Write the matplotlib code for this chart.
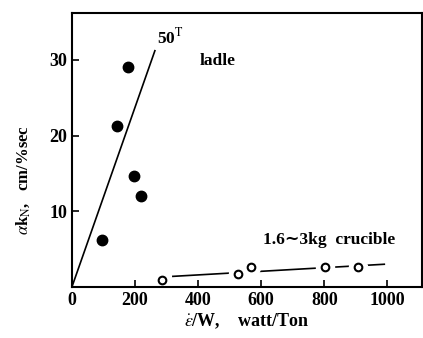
import matplotlib
matplotlib.use("Agg")
import matplotlib.pyplot as plt

# ladle data (filled circles)
ladle_x = [96, 144, 179, 196, 218]
ladle_y = [6.2, 21.2, 29.0, 14.6, 12.0]

# 50 T line
line50_x = [0, 263]
line50_y = [0, 31.2]

# crucible data (open circles)
cruc_x = [285, 525, 567, 803, 906]
cruc_y = [0.93, 1.7, 2.6, 2.6, 2.6]

# crucible trend line
cfit_x = [320, 990]
cfit_y = [1.4, 3.0]

xticks = [0, 200, 400, 600, 800, 1000]
yticks = [10, 20, 30]

plt.rcParams['font.family'] = ['Liberation Serif', 'DejaVu Serif']
plt.rcParams['mathtext.fontset'] = 'stix'

fig = plt.figure(figsize=(4.23, 3.38), dpi=100)
ax = fig.add_axes([0.170, 0.151, 0.828, 0.811])

ax.plot(line50_x, line50_y, color='black', lw=1.2)
ax.plot(cfit_x, cfit_y, color='black', lw=1.2, zorder=2)
# white halo so the trend line breaks around the circles (kept under the spines)
ax.plot(cruc_x, cruc_y, 'o', ms=13, color='white', mec='white', zorder=2.2)
ax.plot(cruc_x, cruc_y, 'o', ms=5.5, mfc='white', mec='black', mew=1.5, zorder=4)
ax.plot(ladle_x, ladle_y, 'o', ms=7.5, color='black', zorder=4)

ax.text(270, 33.0, r'50$^{\rm T}$', fontsize=12.5, fontweight='bold', va='center')
ax.text(406, 29.8, 'ladle', fontsize=12.5, fontweight='bold', va='center')
ax.text(606, 6.2, '1.6\u223c3kg  crucible', fontsize=12.5, fontweight='bold',
        va='center', family=['Liberation Serif', 'DejaVu Sans'])

ax.set_xlim(0, 1110)
ax.set_ylim(0, 36.2)
ax.set_xticks(xticks)
ax.set_yticks(yticks)
ax.tick_params(direction='in', length=5, width=1.2, labelsize=13)
for lab in ax.get_xticklabels() + ax.get_yticklabels():
    lab.set_fontweight('bold')
for s in ax.spines.values():
    s.set_linewidth(1.5)

ax.set_xlabel(r'$\dot{\varepsilon}$/W,    watt/Ton', fontsize=13, fontweight='bold', labelpad=2)
ax.set_ylabel(r'$\alpha$k$_{\rm N}$,   cm/%sec', fontsize=12, fontweight='bold')
ax.yaxis.set_label_coords(-0.115, 0.39)

fig.savefig('out.png', dpi=100)
